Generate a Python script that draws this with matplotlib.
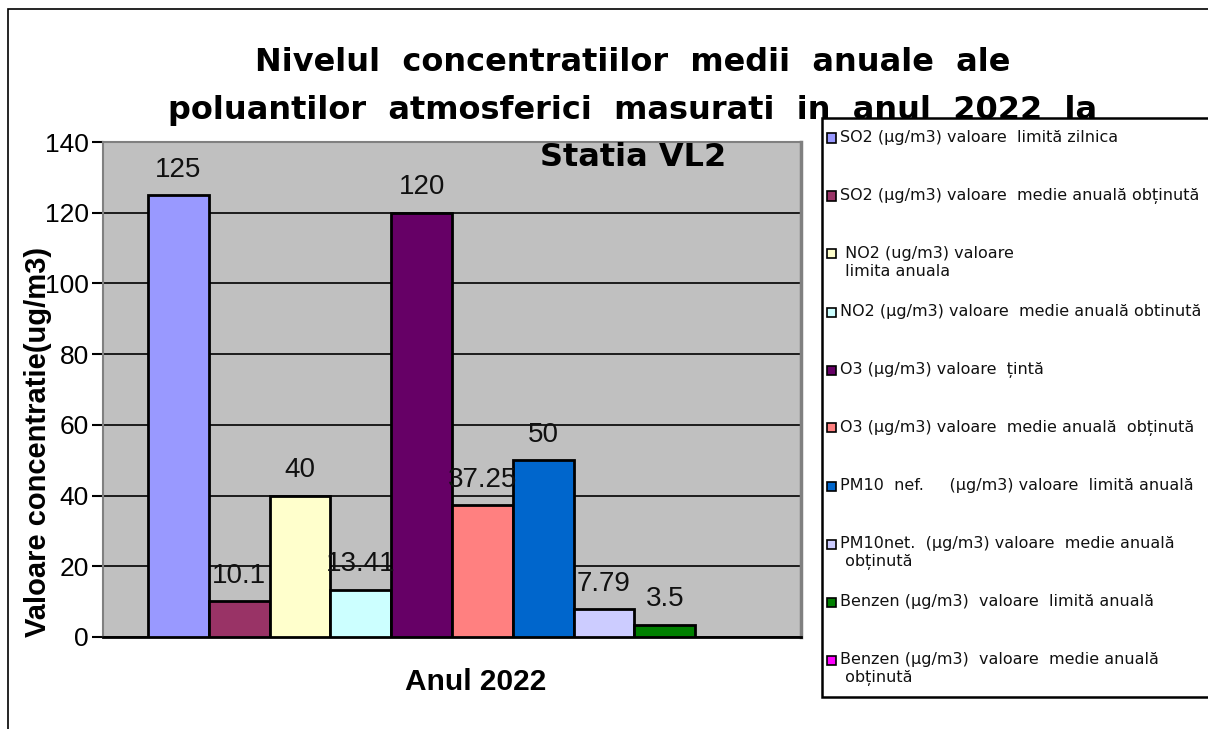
import numpy as np
import matplotlib.pyplot as plt
from matplotlib.patches import Rectangle

plt.rcParams['font.family'] = ['Liberation Sans', 'DejaVu Sans']

# Date: un singur an, zece serii
an = "Anul 2022"
serii = [
    "SO2 (µg/m3) valoare  limită zilnica",
    "SO2 (µg/m3) valoare  medie anuală obținută",
    " NO2 (ug/m3) valoare\n limita anuala",
    "NO2 (µg/m3) valoare  medie anuală obtinută",
    "O3 (µg/m3) valoare  țintă",
    "O3 (µg/m3) valoare  medie anuală  obținută",
    "PM10  nef.     (µg/m3) valoare  limită anuală",
    "PM10net.  (µg/m3) valoare  medie anuală\n obținută",
    "Benzen (µg/m3)  valoare  limită anuală",
    "Benzen (µg/m3)  valoare  medie anuală\n obținută",
]
valori = [125, 10.1, 40, 13.41, 120, 37.25, 50, 7.79, 3.5, np.nan]
etichete = ["125", "10.1", "40", "13.41", "120", "37.25", "50", "7.79", "3.5", ""]
culori = ["#9999FF", "#993366", "#FFFFCC", "#CCFFFF", "#660066",
          "#FF8080", "#0066CC", "#CCCCFF", "#008000", "#FF00FF"]

W, H = 1208, 729
fig = plt.figure(figsize=(W / 100, H / 100), dpi=100)
ax = fig.add_axes([103 / W, 1 - 637 / H, (801 - 103) / W, (637 - 142) / H])
ax.set_facecolor("#C0C0C0")

# Bare
x = np.arange(len(valori))
for i in range(len(valori)):
    if np.isnan(valori[i]):
        continue
    ax.bar(x[i], valori[i], width=1.0, color=culori[i], edgecolor="black",
           linewidth=2, zorder=3)
    ax.annotate(etichete[i], (x[i], valori[i]), xytext=(0, 9),
                textcoords="offset points", ha="center", va="bottom",
                fontsize=20, color="#111111", zorder=4)

ax.set_xlim(-1.24, len(valori) - 1 + 1.24)
ax.set_ylim(0, 140)
ax.set_yticks(np.arange(0, 141, 20))
ax.set_xticks([])
ax.tick_params(axis="y", labelsize=19, length=8, width=1.5, direction="out", pad=2)
ax.yaxis.grid(True, color="black", linewidth=1.2, zorder=1)
ax.set_axisbelow(True)

for s in ["left", "right", "top"]:
    ax.spines[s].set_color("#808080")
    ax.spines[s].set_linewidth(1.5)
ax.spines["right"].set_linewidth(2.5)
ax.spines["bottom"].set_color("black")
ax.spines["bottom"].set_linewidth(2)

# Titluri de axe
fig.text(38 / W, 1 - 442 / H, "Valoare concentratie(ug/m3)", fontsize=21,
         fontweight="bold", rotation=90, ha="center", va="center", zorder=3)
fig.text(476 / W, 1 - 682 / H, an, fontsize=21.5, fontweight="bold",
         ha="center", va="center")

# Titlu
fig.text(633 / W, 1 - 110 / H,
         "Nivelul  concentratiilor  medii  anuale  ale\n"
         "poluantilor  atmosferici  masurati  in  anul  2022  la\n"
         "Statia VL2",
         fontsize=23, fontweight="bold", family="DejaVu Sans",
         ha="center", va="center", linespacing=1.68, zorder=1)

# Cadru exterior
fig.add_artist(Rectangle((8 / W, -0.1), 1.2, 1 - 9 / H + 0.1,
                         transform=fig.transFigure, fill=False,
                         edgecolor="black", linewidth=1.2, zorder=0))

# Legenda
lx0, ly0, ly1 = 822, 118, 697
fig.add_artist(Rectangle((lx0 / W, 1 - ly1 / H), (W + 10 - lx0) / W,
                         (ly1 - ly0) / H, transform=fig.transFigure,
                         facecolor="white", edgecolor="black", linewidth=1.8,
                         zorder=5))
pas = 58
for i, (nume, c) in enumerate(zip(serii, culori)):
    yc = 138 + i * pas
    fig.add_artist(Rectangle((827 / W, 1 - (yc + 4.5) / H), 9 / W, 9 / H,
                             transform=fig.transFigure, facecolor=c,
                             edgecolor="black", linewidth=1.2, zorder=6))
    fig.text(840 / W, 1 - (yc - 8) / H, nume, fontsize=11.5, ha="left",
             va="top", linespacing=1.25, color="#111111", zorder=6,
             family="DejaVu Sans")

fig.savefig("out.png", dpi=100)
